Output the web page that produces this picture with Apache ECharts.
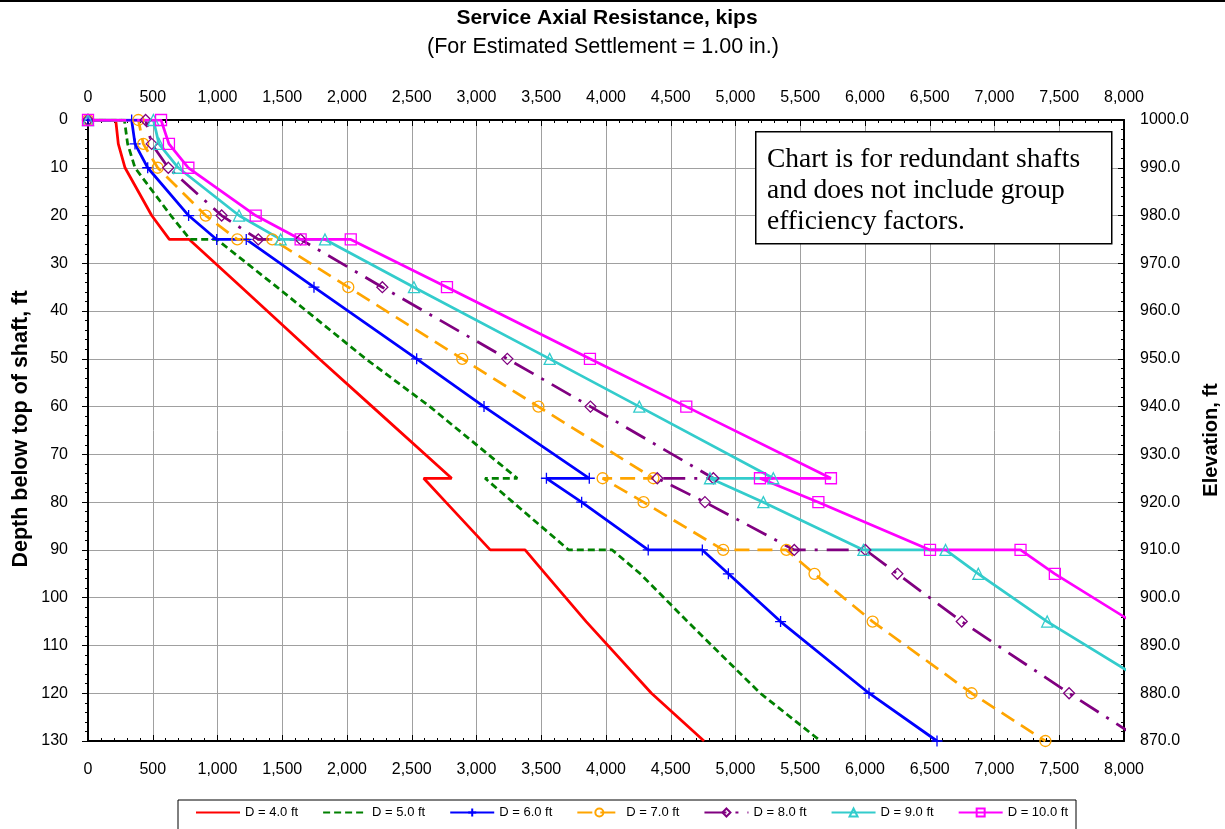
<!DOCTYPE html>
<html>
<head>
<meta charset="UTF-8">
<title>Service Axial Resistance</title>
<script src="https://cdn.jsdelivr.net/npm/echarts@6/dist/echarts.min.js"></script>
<style>
  html, body { margin: 0; padding: 0; background: #fff; }
  #main { width: 1225px; height: 829px; }
</style>
</head>
<body>
<div id="main"></div>
<script>
// depth below top of shaft (ft) for every plotted point, shared by all shafts
var depthPts = [0, 0, 5, 10, 20, 25, 25, 35, 50, 60, 75, 75, 80, 90, 90, 95, 105, 120, 130];

// service axial resistance (kips) for each shaft diameter
var resD4  = [0, 214, 234, 286, 492, 628, 782, 1185, 1785, 2195, 2808, 2592, 2763, 3106, 3375, 3532, 3847, 4351, 4757];
var resD5  = [0, 281, 306, 363, 640, 788, 994, 1460, 2145, 2640, 3315, 3066, 3281, 3712, 4048, 4265, 4630, 5191, 5657];
var resD6  = [0, 337, 363, 461, 777, 994, 1222, 1745, 2538, 3058, 3871, 3540, 3812, 4326, 4744, 4945, 5348, 6031, 6556];
var resD7  = [0, 389, 427, 538, 909, 1153, 1423, 2010, 2890, 3478, 4366, 3974, 4290, 4905, 5393, 5610, 6059, 6823, 7393];
var resD8  = [0, 445, 492, 620, 1032, 1315, 1642, 2273, 3238, 3880, 4829, 4396, 4764, 5454, 6003, 6250, 6747, 7576, 8150];
var resD9  = [0, 505, 548, 697, 1166, 1488, 1830, 2517, 3565, 4257, 5292, 4803, 5215, 5988, 6622, 6875, 7407, 8310, 8880];
var resD10 = [0, 564, 625, 775, 1295, 1642, 2029, 2772, 3876, 4620, 5737, 5189, 5640, 6502, 7201, 7466, 8060, 8950, 9550];

var seriesNames = ['D = 4.0 ft', 'D = 5.0 ft', 'D = 6.0 ft', 'D = 7.0 ft', 'D = 8.0 ft', 'D = 9.0 ft', 'D = 10.0 ft'];

// axis ticks
var resTicks = [0, 500, 1000, 1500, 2000, 2500, 3000, 3500, 4000, 4500, 5000, 5500, 6000, 6500, 7000, 7500, 8000];
var depthTicks = [0, 10, 20, 30, 40, 50, 60, 70, 80, 90, 100, 110, 120, 130];
var elevTicks = [870, 880, 890, 900, 910, 920, 930, 940, 950, 960, 970, 980, 990, 1000];

function pairs(res) {
    return res.map(function (r, i) { return [r, depthPts[i]]; });
}

var plusSym = 'path://M0,5L10,5M5,0L5,10';

var styles = [
    { color: '#FF0000', type: 'solid', symbol: 'none' },
    { color: '#008000', type: [7, 4], symbol: 'none' },
    { color: '#0000FF', type: 'solid', symbol: plusSym, size: 11 },
    { color: '#FFA500', type: [15, 8], symbol: 'circle', size: 11 },
    { color: '#800080', type: [22, 9, 3, 9], symbol: 'diamond', size: 11 },
    { color: '#33CCCC', type: 'solid', symbol: 'triangle', size: 11 },
    { color: '#FF00FF', type: 'solid', symbol: 'rect', size: 11 }
];
var allRes = [resD4, resD5, resD6, resD7, resD8, resD9, resD10];

var series = allRes.map(function (res, i) {
    var s = styles[i];
    var noMark = s.symbol === 'none';
    return {
        name: seriesNames[i],
        type: 'line',
        xAxisIndex: 0,
        yAxisIndex: 0,
        data: pairs(res),
        color: s.color,
        symbol: s.symbol,
        symbolSize: s.size || 0,
        showSymbol: !noMark,
        showAllSymbol: true,
        clip: true,
        lineStyle: { color: s.color, width: 2.75, type: s.type, cap: 'butt' },
        // no-marker series get an invisible legend symbol
        itemStyle: {
            color: 'rgba(255,255,255,0)',
            borderColor: noMark ? 'rgba(255,255,255,0)' : s.color,
            borderWidth: noMark ? 0 : 1.3
        },
        emphasis: { disabled: true }
    };
});

var axisFont = { fontFamily: 'Liberation Sans, Arial, sans-serif', fontSize: 16, color: '#000' };
var blackLine = { show: true, onZero: false, lineStyle: { color: '#000', width: 2 } };
var gridLine = { show: true, lineStyle: { color: '#a0a0a0', width: 1 } };

function xAxis(pos, split) {
    return {
        type: 'value',
        position: pos,
        min: resTicks[0],
        max: resTicks[resTicks.length - 1],
        interval: 500,
        axisLine: blackLine,
        axisTick: { show: true, inside: true, length: 6, lineStyle: { color: '#000', width: 1 } },
        minorTick: { show: true, splitNumber: 5, length: 3, lineStyle: { color: '#000', width: 1 } },
        splitLine: split ? gridLine : { show: false },
        axisLabel: Object.assign({
            margin: pos === 'top' ? 14 : 21,
            formatter: function (v) { return v.toLocaleString('en-US'); }
        }, axisFont)
    };
}

var myChart = echarts.init(document.getElementById('main'), null, { renderer: 'canvas' });

var option = {
    animation: false,
    backgroundColor: '#fff',
    grid: { left: 88, top: 120, width: 1036, height: 621, containLabel: false },
    xAxis: [xAxis('bottom', true), xAxis('top', false)],
    yAxis: [
        {
            type: 'value',
            position: 'left',
            inverse: true,
            min: depthTicks[0],
            max: depthTicks[depthTicks.length - 1],
            interval: 10,
            axisLine: blackLine,
            axisTick: { show: true, inside: false, length: 6, lineStyle: { color: '#000', width: 1 } },
            minorTick: { show: true, splitNumber: 5, length: 3, lineStyle: { color: '#000', width: 1 } },
            splitLine: gridLine,
            axisLabel: Object.assign({ margin: 20 }, axisFont)
        },
        {
            type: 'value',
            position: 'right',
            min: elevTicks[0],
            max: elevTicks[elevTicks.length - 1],
            interval: 10,
            axisLine: blackLine,
            axisTick: { show: true, inside: true, length: 6, lineStyle: { color: '#000', width: 1 } },
            minorTick: { show: true, splitNumber: 5, length: 3, lineStyle: { color: '#000', width: 1 } },
            splitLine: { show: false },
            axisLabel: Object.assign({
                margin: 16,
                formatter: function (v) { return v.toFixed(1); }
            }, axisFont)
        }
    ],
    legend: {
        data: seriesNames,
        left: 178,
        top: 800,
        orient: 'horizontal',
        itemWidth: 44,
        itemHeight: 10,
        itemGap: 24,
        padding: [6, 8, 20, 17],
        borderColor: '#000',
        borderWidth: 1,
        selectedMode: false,
        textStyle: { fontFamily: 'Liberation Sans, Arial, sans-serif', fontSize: 13, color: '#000' }
    },
    graphic: [
        { type: 'rect', left: 0, top: 0, shape: { width: 1225, height: 2 }, style: { fill: '#000' } },
        {
            type: 'text', x: 607, y: 18,
            style: { text: 'Service Axial Resistance, kips', fontFamily: 'Liberation Sans, Arial', fontWeight: 'bold',
                     fontSize: 21, fill: '#000', align: 'center', verticalAlign: 'middle' }
        },
        {
            type: 'text', x: 603, y: 47,
            style: { text: '(For Estimated Settlement = 1.00 in.)', fontFamily: 'Liberation Sans, Arial',
                     fontSize: 21.5, fill: '#000', align: 'center', verticalAlign: 'middle' }
        },
        {
            type: 'text', x: 21, y: 429, rotation: Math.PI / 2,
            style: { text: 'Depth below top of shaft, ft', fontFamily: 'Liberation Sans, Arial', fontWeight: 'bold',
                     fontSize: 21.5, fill: '#000', align: 'center', verticalAlign: 'middle' }
        },
        {
            type: 'text', x: 1211, y: 440, rotation: Math.PI / 2,
            style: { text: 'Elevation, ft', fontFamily: 'Liberation Sans, Arial', fontWeight: 'bold',
                     fontSize: 20, fill: '#000', align: 'center', verticalAlign: 'middle' }
        },
        {
            type: 'rect', left: 755, top: 131, z: 100,
            shape: { width: 356, height: 112 },
            style: { fill: '#fff', stroke: '#000', lineWidth: 1.5 }
        },
        {
            type: 'text', left: 767, top: 144, z: 101,
            style: { text: 'Chart is for redundant shafts\nand does not include group\nefficiency factors.',
                     fontFamily: 'Liberation Serif, Times New Roman, serif', fontSize: 27.5, lineHeight: 31, fill: '#000' }
        }
    ],
    series: series
};

myChart.setOption(option);
</script>
</body>
</html>
